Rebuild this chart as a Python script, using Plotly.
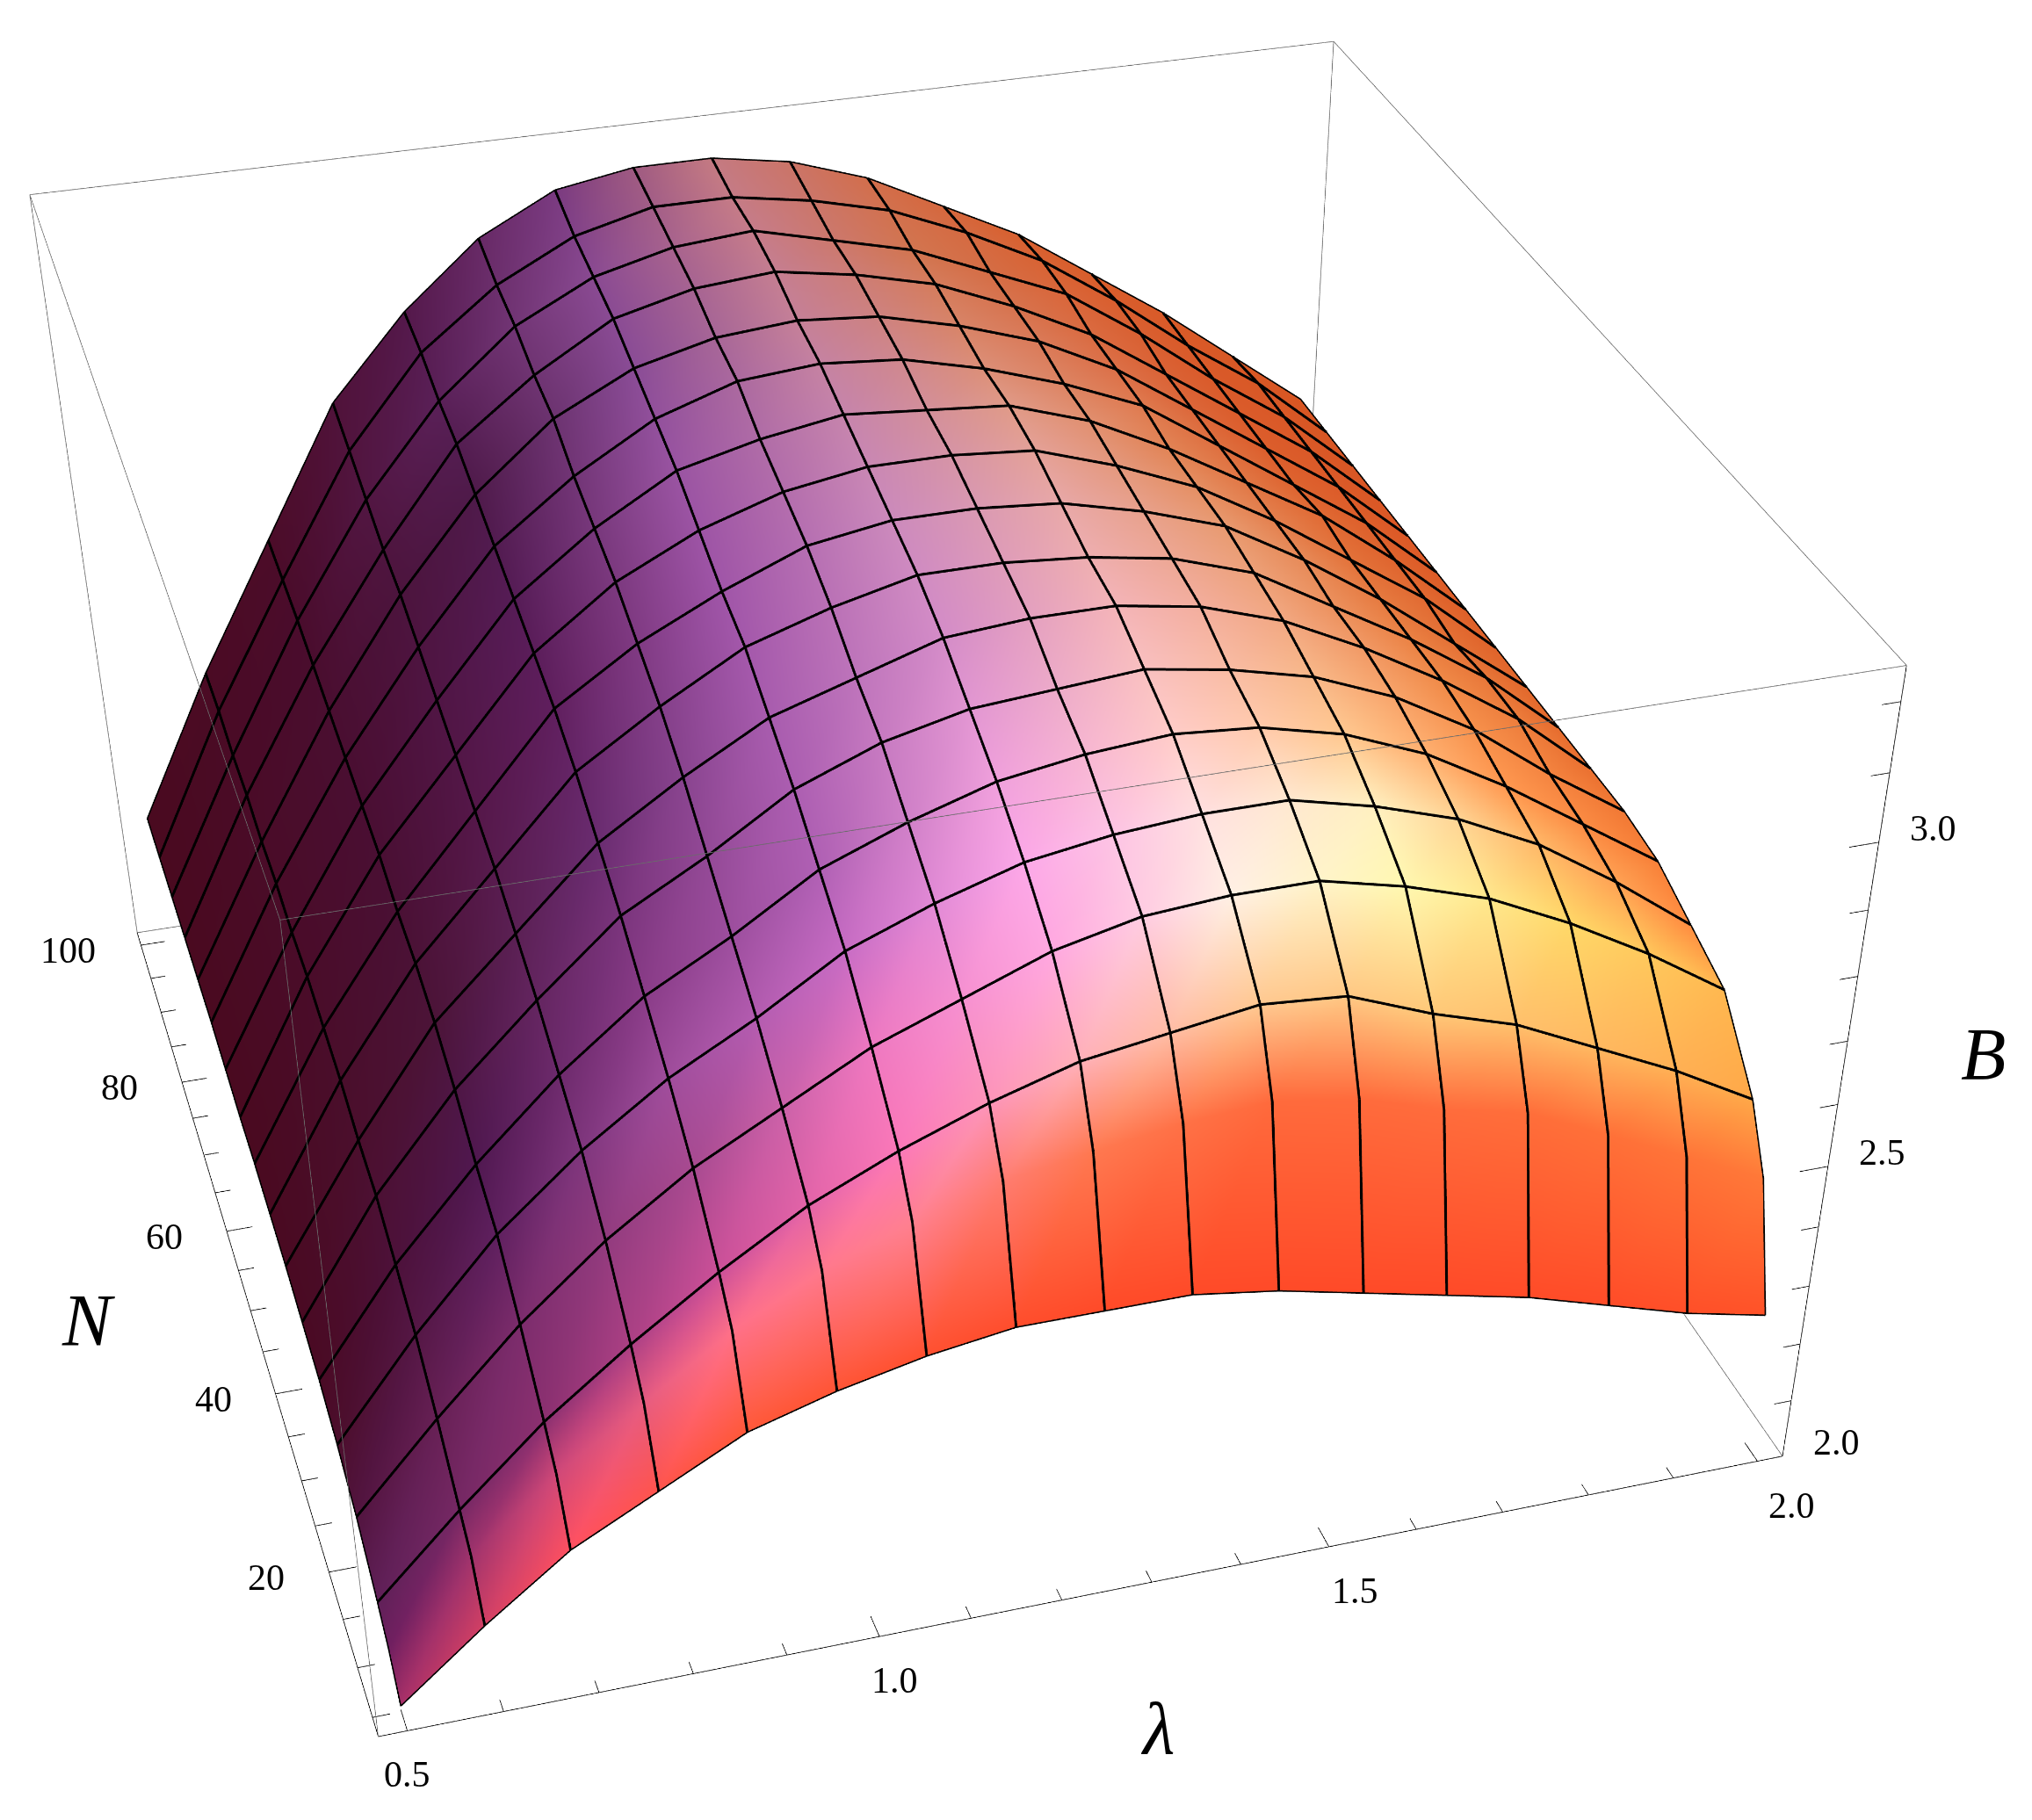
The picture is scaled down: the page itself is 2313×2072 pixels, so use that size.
import numpy as np
import plotly.graph_objects as go

# axis ranges (Mathematica pads the data by 2%)
lam_range = [0.47, 2.03]
n_range = [3.1, 101.9]
b_range = [2.0, 3.25]

lam_nodes = [0.5, 0.59375, 0.6875, 0.78125, 0.875, 0.96875, 1.0625, 1.15625, 1.25,
             1.34375, 1.4375, 1.53125, 1.625, 1.71875, 1.8125, 1.90625, 2.0]
n_nodes = [5, 7.97, 10.94, 16.88, 22.81, 28.75, 34.69, 40.63, 46.56, 52.5,
           58.44, 64.38, 70.31, 76.25, 82.19, 88.13, 94.06, 100]

# B, one list per lambda node, along n_nodes
b_lam00 = [2.01, 2.06, 2.09, 2.14, 2.17, 2.19, 2.20, 2.21, 2.215, 2.22, 2.22, 2.225, 2.23, 2.23, 2.23, 2.23, 2.23, 2.23]
b_lam01 = [2.12, 2.19, 2.22, 2.28, 2.33, 2.36, 2.39, 2.40, 2.42, 2.43, 2.44, 2.44, 2.45, 2.45, 2.46, 2.46, 2.47, 2.47]
b_lam02 = [2.22, 2.30, 2.34, 2.41, 2.47, 2.50, 2.54, 2.57, 2.59, 2.60, 2.62, 2.63, 2.64, 2.65, 2.66, 2.67, 2.675, 2.68]
b_lam03 = [2.29, 2.39, 2.44, 2.52, 2.58, 2.62, 2.66, 2.69, 2.72, 2.74, 2.76, 2.78, 2.80, 2.82, 2.83, 2.85, 2.87, 2.89]
b_lam04 = [2.36, 2.48, 2.53, 2.61, 2.67, 2.72, 2.77, 2.81, 2.85, 2.88, 2.90, 2.92, 2.94, 2.96, 2.98, 2.99, 3.01, 3.02]
b_lam05 = [2.40, 2.55, 2.61, 2.68, 2.74, 2.79, 2.84, 2.89, 2.93, 2.96, 2.99, 3.01, 3.03, 3.06, 3.07, 3.09, 3.10, 3.12]
b_lam06 = [2.43, 2.60, 2.67, 2.75, 2.82, 2.87, 2.92, 2.96, 3.00, 3.02, 3.05, 3.08, 3.10, 3.12, 3.14, 3.15, 3.16, 3.18]
b_lam07 = [2.45, 2.64, 2.72, 2.80, 2.87, 2.92, 2.97, 3.00, 3.04, 3.07, 3.09, 3.11, 3.14, 3.15, 3.17, 3.18, 3.19, 3.20]
b_lam08 = [2.45, 2.66, 2.76, 2.85, 2.91, 2.96, 3.00, 3.04, 3.07, 3.09, 3.11, 3.13, 3.15, 3.16, 3.18, 3.19, 3.19, 3.20]
b_lam09 = [2.45, 2.68, 2.78, 2.88, 2.93, 2.98, 3.01, 3.05, 3.07, 3.09, 3.11, 3.12, 3.14, 3.15, 3.16, 3.16, 3.17, 3.18]
b_lam10 = [2.43, 2.69, 2.80, 2.89, 2.94, 2.99, 3.02, 3.05, 3.06, 3.08, 3.10, 3.11, 3.11, 3.12, 3.13, 3.13, 3.14, 3.14]
b_lam11 = [2.40, 2.67, 2.79, 2.89, 2.94, 2.98, 3.00, 3.03, 3.04, 3.05, 3.06, 3.07, 3.07, 3.08, 3.08, 3.08, 3.09, 3.08]
b_lam12 = [2.37, 2.63, 2.74, 2.86, 2.91, 2.95, 2.97, 2.99, 3.00, 3.01, 3.01, 3.01, 3.02, 3.02, 3.02, 3.03, 3.03, 3.02]
b_lam13 = [2.34, 2.60, 2.70, 2.82, 2.87, 2.90, 2.92, 2.93, 2.93, 2.94, 2.94, 2.94, 2.94, 2.94, 2.94, 2.95, 2.95, 2.94]
b_lam14 = [2.30, 2.54, 2.64, 2.76, 2.81, 2.83, 2.85, 2.86, 2.86, 2.86, 2.86, 2.87, 2.86, 2.86, 2.86, 2.86, 2.86, 2.86]
b_lam15 = [2.26, 2.48, 2.58, 2.69, 2.73, 2.75, 2.76, 2.78, 2.78, 2.77, 2.78, 2.78, 2.78, 2.78, 2.78, 2.78, 2.78, 2.77]
b_lam16 = [2.23, 2.42, 2.51, 2.61, 2.64, 2.67, 2.68, 2.68, 2.68, 2.68, 2.68, 2.68, 2.68, 2.68, 2.68, 2.68, 2.68, 2.68]
b_values = np.array([b_lam00, b_lam01, b_lam02, b_lam03, b_lam04, b_lam05, b_lam06, b_lam07, b_lam08,
                     b_lam09, b_lam10, b_lam11, b_lam12, b_lam13, b_lam14, b_lam15, b_lam16])

lam_ticks = [0.5, 0.6, 0.7, 0.8, 0.9, 1.0, 1.1, 1.2, 1.3, 1.4, 1.5, 1.6, 1.7, 1.8, 1.9, 2.0]
lam_labels = ["0.5", "1.0", "1.5", "2.0"]
n_ticks = [5, 10, 15, 20, 25, 30, 35, 40, 45, 50, 55, 60, 65, 70, 75, 80, 85, 90, 95, 100]
n_labels = ["20", "40", "60", "80", "100"]
b_ticks = [2.1, 2.2, 2.3, 2.4, 2.5, 2.6, 2.7, 2.8, 2.9, 3.0, 3.1, 3.2]
b_labels = ["2.0", "2.5", "3.0"]

# the shading: colours seen on the surface, rows along N (in mesh cells), columns along lambda
shade_rows = [0, 0.5, 1, 2, 3, 4, 6, 8, 10, 12, 14, 16]
shade_cols = [0, 2, 4, 6, 8, 10, 12, 14, 16]
shade = [
    ["#a83068", "#ff5060", "#ff5838", "#ff5030", "#ff4a28", "#ff4a28", "#ff4a28", "#ff4c28", "#ff5228"],
    ["#701f60", "#d04878", "#ff7088", "#ff8090", "#ff7850", "#ff6a3c", "#ff6c3c", "#ff7038", "#ff7838"],
    ["#602058", "#8c3070", "#cc5098", "#fb78b8", "#ffb0b8", "#ffc890", "#ffc878", "#ffb860", "#ffa848"],
    ["#52143f", "#7c2c6c", "#a84a90", "#ee78c0", "#ffa8e0", "#fff0e4", "#fff8b0", "#ffd868", "#ffb850"],
    ["#4c0e2c", "#5f205f", "#a04d9c", "#c86cc4", "#fca8e8", "#ffe0e0", "#fff0c0", "#ffb868", "#ff8c40"],
    ["#4a0a24", "#501850", "#8a3c88", "#b060b4", "#f0a0dc", "#ffccc8", "#ffc890", "#ff9850", "#f88038"],
    ["#4a0a22", "#4c1438", "#6a2c70", "#a85cae", "#d48cc8", "#f4b4b8", "#f2a882", "#f08a48", "#ea7030"],
    ["#4a0a20", "#4a1034", "#601f5e", "#a055a8", "#cc8abc", "#e8a8a8", "#e89a70", "#e67a40", "#e2682c"],
    ["#4a0a20", "#4a0e32", "#561c56", "#9a54a2", "#c684ac", "#e09a88", "#e28456", "#e06a34", "#de5f28"],
    ["#4a0a20", "#4a0e30", "#4f1a4a", "#8a4c96", "#c58098", "#d88468", "#dc7048", "#dc5e2c", "#dc5826"],
    ["#4a0a20", "#4a0c2c", "#5a2058", "#8a4a92", "#c67c8a", "#d27550", "#d9663a", "#da5a2a", "#d85624"],
    ["#4a0a20", "#4c0c28", "#54184a", "#7a3a80", "#c47a82", "#d26e4c", "#d8602f", "#d95a28", "#d85622"],
]

fig_w, fig_h = 2297, 4210
aspect = np.array([0.975, 0.9776, 0.5776])
eye = np.array([-0.7296, -2.5811, 1.5428])
pad = 0.002  # lines lying exactly on the scene bounds get clipped


def rgb(hex_colour):
    return [int(hex_colour[i:i + 2], 16) for i in (1, 3, 5)]


def add_segments(fig, segments, colour, width):
    xs, ys, zs = [], [], []
    for start, end in segments:
        xs += [start[0], end[0], None]
        ys += [start[1], end[1], None]
        zs += [start[2], end[2], None]
    fig.add_trace(go.Scatter3d(x=xs, y=ys, z=zs, mode="lines", line=dict(color=colour, width=width),
                               hoverinfo="skip", showlegend=False))


def padded(axis_range):
    span = axis_range[1] - axis_range[0]
    return [axis_range[0] - pad * span, axis_range[1] + pad * span]


lam_grid, n_grid = np.meshgrid(lam_nodes, n_nodes, indexing="ij")
n_lam, n_n = b_values.shape

# per vertex colour
shade_rgb = np.array([[rgb(c) for c in row] for row in shade], float)
row_pos = [0, 0.5] + list(range(1, 17))
by_row = np.array([[np.interp(row_pos, shade_rows, shade_rgb[:, k, ch]) for ch in range(3)]
                   for k in range(len(shade_cols))])
vertex_rgb = np.array([[[np.interp(i, shade_cols, by_row[:, ch, j]) for ch in range(3)]
                        for j in range(n_n)] for i in range(n_lam)])
vertex_colours = ["rgb(%d,%d,%d)" % tuple(v) for v in vertex_rgb.reshape(-1, 3)]

idx = np.arange(n_lam * n_n).reshape(n_lam, n_n)
a, b, c, d = idx[:-1, :-1].ravel(), idx[1:, :-1].ravel(), idx[1:, 1:].ravel(), idx[:-1, 1:].ravel()

fig = go.Figure()
fig.add_trace(go.Mesh3d(
    x=lam_grid.ravel(), y=n_grid.ravel(), z=b_values.ravel(),
    i=np.r_[a, a], j=np.r_[b, c], k=np.r_[c, d],
    vertexcolor=vertex_colours, flatshading=False,
    lighting=dict(ambient=1, diffuse=0, specular=0, fresnel=0, roughness=1),
    hoverinfo="skip", showscale=False,
))

lows = np.array([lam_range[0], n_range[0], b_range[0]])
spans = np.array([lam_range[1] - lam_range[0], n_range[1] - n_range[0], b_range[1] - b_range[0]])


def node(i, j):
    # pull mesh lines a hair along the view ray so the surface does not cut them in half
    pos = np.array([lam_nodes[i], n_nodes[j], b_values[i, j]])
    model = aspect * ((pos - lows) / spans - 0.5)
    ray = eye - model
    model = model + 0.012 * ray / np.linalg.norm(ray)
    return tuple((model / aspect + 0.5) * spans + lows)


def polyline(points):
    return [(points[i], points[i + 1]) for i in range(len(points) - 1)]


# every node line except the half row at index 1 and the boundary
inner, edge = [], []
for i in range(n_lam):
    pts = [node(i, j) for j in range(n_n)]
    (edge if i in (0, n_lam - 1) else inner).extend(polyline(pts))
for j in range(n_n):
    if j == 1:
        continue
    pts = [node(i, j) for i in range(n_lam)]
    (edge if j in (0, n_n - 1) else inner).extend(polyline(pts))
add_segments(fig, inner, "#000000", 5.5)
add_segments(fig, edge, "#000000", 3)

# bounding box
lam0, lam1 = lam_range
n0, n1 = n_range
b0, b1 = b_range
box_grey = [
    ((lam0, n1, b1), (lam1, n1, b1)), ((lam1, n1, b1), (lam1, n0, b1)), ((lam1, n0, b1), (lam0, n0, b1)),
    ((lam0, n0, b1), (lam0, n1, b1)), ((lam0, n1, b0), (lam0, n1, b1)), ((lam1, n1, b0), (lam1, n1, b1)),
    ((lam0, n0, b0), (lam0, n0, b1)), ((lam0, n1, b0), (lam1, n1, b0)), ((lam1, n1, b0), (lam1, n0, b0)),
]
add_segments(fig, box_grey, "#6b6b6b", 1.5)

axis_black = [((lam0, n0, b0), (lam1, n0, b0)), ((lam0, n0, b0), (lam0, n1, b0)), ((lam1, n0, b0), (lam1, n0, b1))]
for v in lam_ticks:
    size = 2.1 if v in (0.5, 1.0, 1.5, 2.0) else 1.2
    axis_black.append(((v, n0, b0), (v, n0 + size, b0)))
for v in n_ticks:
    size = 0.03 if v % 20 == 0 else 0.018
    axis_black.append(((lam0, v, b0), (lam0 + size, v, b0)))
for v in b_ticks:
    size = 0.032 if v in (2.5, 3.0) else 0.02
    axis_black.append(((lam1, n0, v), (lam1 - size, n0, v)))
add_segments(fig, axis_black, "#000000", 1.5)

tick_font = dict(family="Liberation Serif", size=42, color="#000000")
notes = []
for text, dx in zip(lam_labels, [0, 17, 30, 39]):
    notes.append(dict(x=float(text), y=n0, z=b0, text=text, xshift=dx, yshift=-50))
for text, dx in zip(n_labels, [-71, -71, -71, -71, -83]):
    notes.append(dict(x=lam0, y=float(text), z=b0, text=text, xshift=dx, yshift=-6))
for text in b_labels:
    notes.append(dict(x=lam1, y=n0, z=float(text), text=text, xshift=62, yshift=16))
for note in notes:
    note.update(showarrow=False, font=tick_font, xanchor="center", yanchor="middle")

scene_aspect = aspect * (1 + 2 * pad)
fig.update_layout(
    width=fig_w, height=fig_h, autosize=False,
    margin=dict(l=0, r=0, t=0, b=0),
    paper_bgcolor="white",
    showlegend=False,
    scene=dict(
        domain=dict(x=[0, 1], y=[0, 1]),
        xaxis=dict(visible=False, range=padded(lam_range)),
        yaxis=dict(visible=False, range=padded(n_range)),
        zaxis=dict(visible=False, range=padded(b_range)),
        aspectmode="manual",
        aspectratio=dict(x=scene_aspect[0], y=scene_aspect[1], z=scene_aspect[2]),
        camera=dict(eye=dict(x=eye[0], y=eye[1], z=eye[2]),
                    center=dict(x=-0.0409, y=-0.4252, z=-0.5673),
                    up=dict(x=0.1978, y=0.6527, z=0.7314)),
        annotations=notes,
    ),
)

title_font = dict(family="Liberation Serif", size=84, color="#000000")
for text, px, py in [("N", 92, 1496), ("λ", 1309, 1959), ("B", 2249, 1192)]:
    fig.add_annotation(x=px / fig_w, y=1 - py / fig_h, xref="paper", yref="paper", text="<i>%s</i>" % text,
                       showarrow=False, font=title_font, xanchor="center", yanchor="middle")

fig.write_html("out.html")
